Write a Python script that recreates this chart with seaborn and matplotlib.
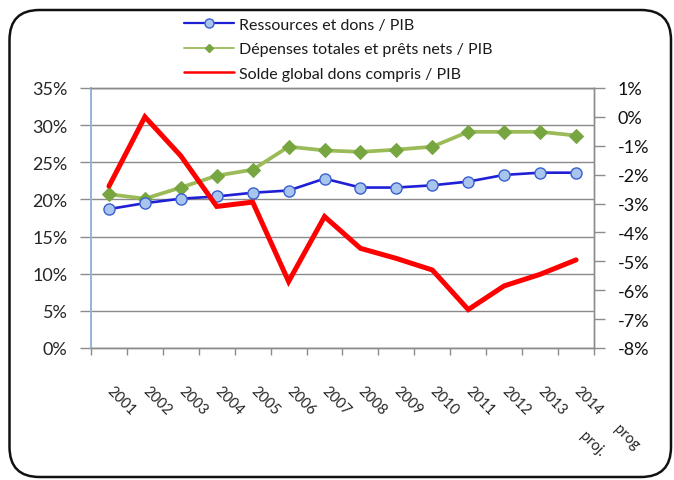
import numpy as np
import pandas as pd
import matplotlib
matplotlib.use("Agg")
import matplotlib.pyplot as plt
import seaborn as sns
from matplotlib.patches import FancyBboxPatch
from matplotlib.lines import Line2D
from matplotlib.transforms import ScaledTranslation
from matplotlib.ticker import FuncFormatter, FixedLocator

years = ["2001", "2002", "2003", "2004", "2005", "2006", "2007",
         "2008", "2009", "2010", "2011", "2012", "2013", "2014"]
ressources = [18.7, 19.5, 20.1, 20.4, 20.9, 21.2, 22.8,
              21.6, 21.6, 21.9, 22.4, 23.3, 23.6, 23.6]
depenses = [20.7, 20.1, 21.6, 23.2, 24.0, 27.1, 26.6,
            26.4, 26.7, 27.1, 29.1, 29.1, 29.1, 28.6]
solde = [-2.4, 0.0, -1.35, -3.1, -2.95, -5.7, -3.45,
         -4.55, -4.9, -5.3, -6.67, -5.85, -5.45, -4.95]
labels = ["Ressources et dons / PIB", "Dépenses totales et prêts nets / PIB",
          "Solde global dons compris / PIB"]
extra_labels = ["proj.", "prog"]

sns.set_theme(style="white")
plt.rcParams["font.family"] = ["Lato", "DejaVu Sans"]
plt.rcParams["axes.unicode_minus"] = False

df = pd.DataFrame({"idx": np.arange(len(years)), "res": ressources,
                   "dep": depenses, "sol": solde})

fig = plt.figure(figsize=(6.74, 4.81), dpi=100)
fig.patch.set_facecolor("white")
ax = fig.add_axes([91/674, 1-349/481, (594-91)/674, (349-89)/481])
ax2 = ax.twinx()

blue = "#1f1fd6"
green_line = "#9bbb59"
green_mk = "#77a640"
red = "#ff0000"

sns.lineplot(data=df, x="idx", y="dep", ax=ax, color=green_line, lw=2.7,
             marker="D", markersize=7, markerfacecolor=green_mk,
             markeredgecolor=green_mk, sort=False)
sns.lineplot(data=df, x="idx", y="res", ax=ax, color=blue, lw=1.9,
             marker="o", markersize=8, markerfacecolor="#a8c5ee",
             markeredgecolor="#3a5fd0", markeredgewidth=1.0, sort=False)
sns.lineplot(data=df, x="idx", y="sol", ax=ax2, color=red, lw=3.6,
             sort=False, solid_joinstyle="miter")

ax.set_xlim(-0.5, len(years) - 0.5)
ax.set_ylim(0, 35)
ax2.set_ylim(-8, 1)
ax.set_xlabel("")
ax.set_ylabel("")
ax2.set_ylabel("")

# left axis
ax.set_yticks(np.arange(0, 36, 5))
ax.yaxis.set_major_formatter(FuncFormatter(lambda v, p: f"{v:.0f}%"))
ax.tick_params(axis="y", which="major", length=8, width=1, color="#8c8c8c",
               pad=9, labelsize=13, labelcolor="#262626", left=True)
ax.grid(axis="y", color="#8a8a8a", lw=1.0)
ax.grid(axis="x", visible=False)

# right axis
ax2.set_yticks(np.arange(-8, 2, 1))
ax2.yaxis.set_major_formatter(FuncFormatter(lambda v, p: f"{v:.0f}%"))
ax2.tick_params(axis="y", which="major", length=8, width=1, color="#8c8c8c",
                pad=9, labelsize=13, labelcolor="#111111", right=True)
ax2.grid(False)

# x axis
ax.set_xticks(np.arange(len(years)))
ax.set_xticklabels(years)
ax.xaxis.set_minor_locator(FixedLocator(np.arange(-0.5, len(years), 1.0)))
ax.tick_params(axis="x", which="major", length=0, pad=25, labelsize=10.5,
               labelcolor="#262626", bottom=True)
ax.tick_params(axis="x", which="minor", length=5, width=1, color="#8c8c8c",
               bottom=True)
for lab in ax.get_xticklabels():
    lab.set_rotation(-45)
    lab.set_rotation_mode("anchor")
    lab.set_ha("left")
    lab.set_va("top")
    lab.set_transform(lab.get_transform() +
                      ScaledTranslation(5/100, 0, fig.dpi_scale_trans))

# extra text under 2014
base = ax.get_xaxis_transform()
ax.text(len(years) - 1, 0, extra_labels[0], rotation=-45, rotation_mode="anchor",
        ha="left", va="top", fontsize=10.5, color="#262626",
        transform=base + ScaledTranslation(11/100, -80/100, fig.dpi_scale_trans))
ax.text(len(years) - 1, 0, extra_labels[1], rotation=-45, rotation_mode="anchor",
        ha="left", va="top", fontsize=10.5, color="#262626",
        transform=base + ScaledTranslation(45/100, -73/100, fig.dpi_scale_trans))

for a in (ax, ax2):
    for s in a.spines.values():
        s.set_linewidth(1.0)
        s.set_color("#8c8c8c")
ax.spines["left"].set_color("#95b3d7")
ax.spines["left"].set_linewidth(1.4)
ax2.spines["left"].set_visible(False)
ax2.spines["top"].set_color("#8a8a8a")

# legend
handles = [
    Line2D([], [], color=blue, lw=1.6, marker="o", markersize=6.5,
           markerfacecolor="#a8c5ee", markeredgecolor="#3a5fd0"),
    Line2D([], [], color=green_line, lw=1.3, marker="D", markersize=4.5,
           markerfacecolor=green_mk, markeredgecolor=green_mk),
    Line2D([], [], color=red, lw=1.8),
]
fig.legend(handles, labels, loc="upper left",
           bbox_to_anchor=(178/674, 1-12/481), frameon=False,
           fontsize=11.5, handlelength=3.1, handletextpad=0.3,
           labelspacing=0.65, borderaxespad=0, labelcolor="#1a1a1a")

frame = FancyBboxPatch((0.095, 0.03), 6.615, 4.67,
                       boxstyle="round,pad=0,rounding_size=0.3",
                       transform=fig.dpi_scale_trans, fill=False,
                       lw=1.8, ec="#111111")
fig.add_artist(frame)

fig.savefig("out.png", dpi=100, facecolor="white")
